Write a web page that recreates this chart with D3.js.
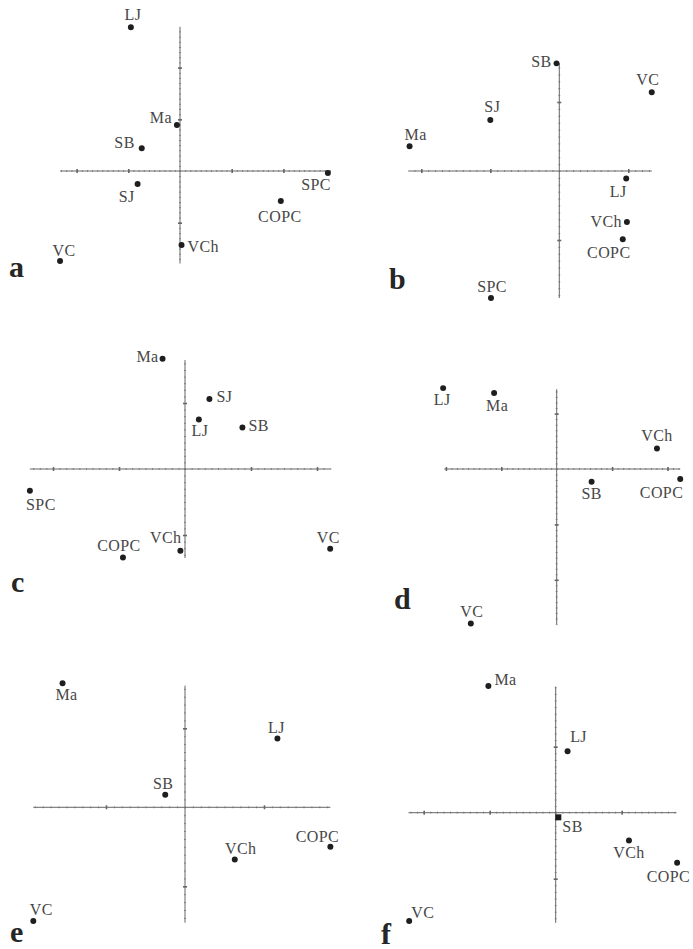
<!DOCTYPE html>
<html>
<head>
<meta charset="utf-8">
<script src="https://cdn.jsdelivr.net/npm/d3@7"></script>
<style>
  body { margin: 0; background: #fff; }
  .lbl { font-family: "Liberation Serif", "DejaVu Serif", serif; font-size: 16px; fill: #474747; letter-spacing: 0.4px; }
  .panel-letter { font-family: "Liberation Serif", serif; font-weight: bold; font-size: 30px; fill: #262626; }
  .axis line { stroke: #666; }
  .minor line { stroke: #999; }
</style>
</head>
<body>
<div id="chart"></div>
<script>
const width = 693;
const height = 949;

// point names and coordinates (in axis units) for each panel
const namesA = ["LJ", "Ma", "SB", "SJ", "SPC", "COPC", "VCh", "VC"];
const xA = [-0.95, -0.06, -0.74, -0.82, 2.86, 1.95, 0.03, -2.32];
const yA = [2.78, 0.89, 0.44, -0.25, -0.04, -0.58, -1.43, -1.74];

const namesB = ["SB", "VC", "SJ", "Ma", "LJ", "VCh", "COPC", "SPC"];
const xB = [-0.04, 1.34, -1.0, -2.17, 0.97, 0.98, 0.92, -0.99];
const yB = [1.56, 1.14, 0.74, 0.36, -0.11, -0.74, -0.99, -1.84];

const namesC = ["Ma", "SJ", "LJ", "SB", "SPC", "COPC", "VCh", "VC"];
const xC = [-0.34, 0.37, 0.21, 0.87, -2.35, -0.94, -0.07, 2.2];
const yC = [1.67, 1.06, 0.75, 0.63, -0.33, -1.34, -1.24, -1.21];

const namesD = ["LJ", "Ma", "VCh", "SB", "COPC", "VC"];
const xD = [-2.05, -1.13, 1.81, 0.63, 2.23, -1.55];
const yD = [1.46, 1.37, 0.37, -0.23, -0.18, -2.79];

const namesE = ["Ma", "LJ", "SB", "COPC", "VCh", "VC"];
const xE = [-1.55, 1.17, -0.25, 1.84, 0.63, -1.92];
const yE = [1.57, 0.87, 0.16, -0.5, -0.66, -1.44];

const namesF = ["Ma", "LJ", "SB", "VCh", "COPC", "VC"];
const xF = [-1.02, 0.18, 0.04, 1.11, 1.84, -2.22];
const yF = [1.92, 0.93, -0.07, -0.42, -0.76, -1.64];

// extent of the drawn axes (axis units)
const axisX = [[-2.32, 2.9], [-2.19, 1.34], [-2.35, 2.2], [-2.03, 2.23], [-1.92, 1.84], [-2.23, 1.83]];
const axisY = [[-1.79, 2.79], [-1.84, 1.56], [-1.35, 1.65], [-2.8, 1.44], [-1.46, 1.54], [-1.67, 1.91]];

const letters = ["a", "b", "c", "d", "e", "f"];

// layout: origin px and px per unit, panel letter position
const layout = [
    { ox: 180, oy: 171, k: 51.7, lx: 9, ly: 277 },
    { ox: 559.3, oy: 171, k: 69, lx: 389, ly: 289 },
    { ox: 185, oy: 469, k: 66, lx: 11, ly: 592 },
    { ox: 556.7, oy: 469, k: 55.4, lx: 394, ly: 609 },
    { ox: 185, oy: 807.3, k: 79, lx: 10, ly: 942 },
    { ox: 555.7, oy: 812.7, k: 66, lx: 381, ly: 944 }
];

// label offsets from the dot: [dx, dy, anchor]
const labelPos = [
    { LJ: [2, -7, "middle"], Ma: [-5, -2, "end"], SB: [-7, 0, "end"], SJ: [-11, 18, "middle"],
      SPC: [3, 17, "end"], COPC: [-1, 21, "middle"], VCh: [6, 7, "start"], VC: [4, -5, "middle"] },
    { SB: [-5, 4, "end"], VC: [-4, -7, "middle"], SJ: [2, -8, "middle"], Ma: [6, -6, "middle"],
      LJ: [-8, 18, "middle"], VCh: [-5, 5, "end"], COPC: [-14, 19, "middle"], SPC: [1, -6, "middle"] },
    { Ma: [-4, 3, "end"], SJ: [7, 3, "start"], LJ: [1, 16, "middle"], SB: [6, 4, "start"],
      SPC: [11, 19, "middle"], COPC: [-4, -6, "middle"], VCh: [1, -8, "end"], VC: [-2, -6, "middle"] },
    { LJ: [-1, 17, "middle"], Ma: [3, 18, "middle"], VCh: [0, -8, "middle"], SB: [0, 17, "middle"],
      COPC: [3, 19, "end"], VC: [1, -7, "middle"] },
    { Ma: [4, 17, "middle"], LJ: [-1, -6, "middle"], SB: [-2, -6, "middle"], COPC: [-13, -5, "middle"],
      VCh: [6, -5, "middle"], VC: [8, -6, "middle"] },
    { Ma: [6, -1, "start"], LJ: [11, -9, "middle"], SB: [4, 15, "start"], VCh: [0, 18, "middle"],
      COPC: [13, 19, "end"], VC: [2, -3, "start"] }
];

const names = [namesA, namesB, namesC, namesD, namesE, namesF];
const xs = [xA, xB, xC, xD, xE, xF];
const ys = [yA, yB, yC, yD, yE, yF];

const svg = d3.select('#chart')
    .append('svg')
    .attr('width', width)
    .attr('height', height)

svg.append('rect').attr('width', width).attr('height', height).attr('fill', '#fff')

letters.forEach((letter, i) => {
    const L = layout[i];
    const x = d3.scaleLinear().domain([0, 1]).range([L.ox, L.ox + L.k]);
    const y = d3.scaleLinear().domain([0, 1]).range([L.oy, L.oy - L.k]);
    const [x0, x1] = axisX[i];
    const [y0, y1] = axisY[i];

    const g = svg.append('g').attr('class', 'panel-' + letter)

    const majX = d3.range(Math.ceil(x0), Math.floor(x1) + 1).filter(v => v !== 0);
    const majY = d3.range(Math.ceil(y0), Math.floor(y1) + 1).filter(v => v !== 0);
    const minX = d3.range(Math.ceil(x0 * 10), Math.floor(x1 * 10) + 1).map(v => v / 10);
    const minY = d3.range(Math.ceil(y0 * 10), Math.floor(y1 * 10) + 1).map(v => v / 10);

    // minor ticks
    g.append('g').attr('class', 'minor')
        .attr('transform', `translate(0,${L.oy - 1})`)
        .call(d3.axisBottom(x).tickValues(minX).tickSize(2).tickFormat(''))
        .call(a => a.select('.domain').remove())
    g.append('g').attr('class', 'minor')
        .attr('transform', `translate(${L.ox - 1},0)`)
        .call(d3.axisRight(y).tickValues(minY).tickSize(2).tickFormat(''))
        .call(a => a.select('.domain').remove())

    // axis lines
    g.append('line')
        .attr('x1', x(x0)).attr('x2', x(x1))
        .attr('y1', y(0)).attr('y2', y(0))
        .attr('stroke', '#666').attr('stroke-width', 1)
    g.append('line')
        .attr('x1', x(0)).attr('x2', x(0))
        .attr('y1', y(y0)).attr('y2', y(y1))
        .attr('stroke', '#666').attr('stroke-width', 1)

    // major ticks
    g.append('g').attr('class', 'axis')
        .attr('transform', `translate(0,${L.oy - 2})`)
        .call(d3.axisBottom(x).tickValues(majX).tickSize(4).tickFormat(''))
        .call(a => a.select('.domain').remove())
        .selectAll('line').attr('stroke-width', 1.6)
    g.append('g').attr('class', 'axis')
        .attr('transform', `translate(${L.ox - 2},0)`)
        .call(d3.axisRight(y).tickValues(majY).tickSize(4).tickFormat(''))
        .call(a => a.select('.domain').remove())
        .selectAll('line').attr('stroke-width', 1.6)

    const pts = names[i].map((n, j) => ({ name: n, x: xs[i][j], y: ys[i][j] }));

    const pg = g.selectAll('g.pt')
        .data(pts)
        .enter()
        .append('g')
        .attr('class', 'pt')
        .attr('transform', d => `translate(${x(d.x)},${y(d.y)})`)

    // in panel f SB sits on the origin and reads as a square
    pg.append('path')
        .attr('d', d => d3.symbol()
            .type(letter === 'f' && d.name === 'SB' ? d3.symbolSquare : d3.symbolCircle)
            .size(letter === 'f' && d.name === 'SB' ? 36 : 28)())
        .attr('fill', '#1e1e1e')

    pg.append('text')
        .attr('class', 'lbl')
        .attr('x', d => labelPos[i][d.name][0])
        .attr('y', d => labelPos[i][d.name][1])
        .attr('text-anchor', d => labelPos[i][d.name][2])
        .text(d => d.name)

    svg.append('text')
        .attr('class', 'panel-letter')
        .attr('x', L.lx)
        .attr('y', L.ly)
        .text(letter)
})
</script>
</body>
</html>
